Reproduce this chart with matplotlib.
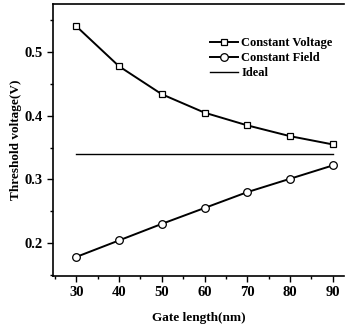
import matplotlib
matplotlib.use("Agg")
import matplotlib.pyplot as plt
from matplotlib.ticker import MultipleLocator

# data
gate_length = [30, 40, 50, 60, 70, 80, 90]
constant_voltage = [0.541, 0.478, 0.434, 0.405, 0.385, 0.368, 0.355]
constant_field = [0.178, 0.204, 0.230, 0.255, 0.280, 0.301, 0.322]
ideal = [0.340, 0.340, 0.340, 0.340, 0.340, 0.340, 0.340]

plt.rcParams['font.family'] = ['Liberation Serif', 'DejaVu Serif']
plt.rcParams['font.weight'] = 'bold'

fig = plt.figure(figsize=(3.45, 3.29), dpi=100)
ax = fig.add_axes([0.154, 0.161, 0.843, 0.827])

ax.plot(gate_length, constant_voltage, color='black', lw=1.4, marker='s',
        ms=5, mfc='white', mec='black', mew=0.9, label='Constant Voltage')
ax.plot(gate_length, constant_field, color='black', lw=1.4, marker='o',
        ms=5.5, mfc='white', mec='black', mew=0.9, label='Constant Field')
ax.plot(gate_length, ideal, color='black', lw=1.0, label='Ideal')

ax.set_xlim(24.6, 92.6)
ax.set_ylim(0.148, 0.576)
ax.xaxis.set_major_locator(MultipleLocator(10))
ax.xaxis.set_minor_locator(MultipleLocator(5))
ax.yaxis.set_major_locator(MultipleLocator(0.1))
ax.yaxis.set_minor_locator(MultipleLocator(0.05))
ax.tick_params(which='major', direction='out', length=4, width=1, labelsize=10.5)
ax.tick_params(which='minor', direction='out', length=2, width=1)
for lab in ax.get_xticklabels() + ax.get_yticklabels():
    lab.set_fontweight('bold')

ax.spines['right'].set_visible(False)
for s in ['left', 'bottom', 'top']:
    ax.spines[s].set_linewidth(1.2)

ax.set_xlabel('Gate length(nm)', fontsize=9.5, fontweight='bold', labelpad=9)
ax.set_ylabel('Threshold voltage(V)', fontsize=9.5, fontweight='bold', labelpad=2)

ax.legend(loc='upper right', bbox_to_anchor=(1.0, 0.92), frameon=False,
          handlelength=2.2, handletextpad=0.3, labelspacing=0.25,
          prop={'weight': 'bold', 'size': 9})

fig.savefig('out.png', dpi=100)
